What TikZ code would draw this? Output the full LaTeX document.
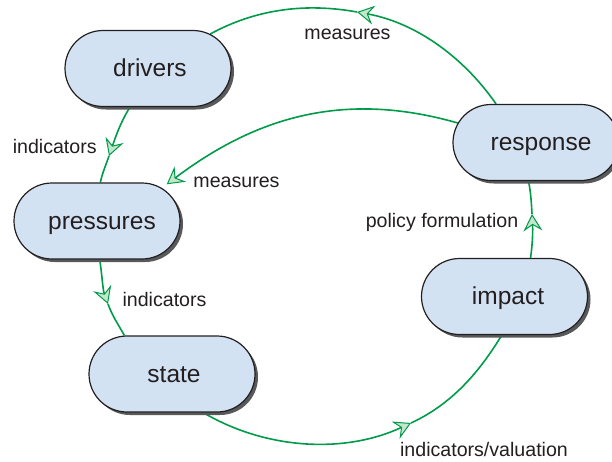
\documentclass[tikz,border=0pt]{standalone}
\usepackage{fontspec}
\setmainfont{Liberation Sans}
\usetikzlibrary{shapes.misc,shadows,arrows.meta}
\pgfdeclarelayer{background}
\pgfsetlayers{background,main}
\definecolor{nodefill}{RGB}{211,226,243}
\definecolor{nodeline}{RGB}{35,31,32}
\definecolor{shadowgray}{RGB}{88,89,91}
\definecolor{conngreen}{RGB}{0,155,72}
\definecolor{tipfill}{RGB}{196,230,202}
\definecolor{txt}{RGB}{35,31,32}
\tikzset{
  stage/.style={rounded rectangle, draw=nodeline, line width=1.2pt, fill=nodefill,
    minimum width=166pt, minimum height=76pt, inner sep=0pt, text=txt,
    text height=17.5pt, text depth=1pt,
    font=\fontsize{24.5}{29}\selectfont,
    drop shadow={shadow xshift=3pt, shadow yshift=-3pt, fill=shadowgray, opacity=1}},
  lbl/.style={text=txt, font=\fontsize{19.6}{23}\selectfont, inner sep=0pt, anchor=base},
  conn/.style={draw=conngreen, line width=1.6pt},
  headarrow/.style={-{Stealth[length=17pt,width=19pt,inset=6pt,line width=1pt,fill=tipfill]}}
}
\begin{document}
\begin{tikzpicture}[x=1pt,y=1pt]
\useasboundingbox (0,0) rectangle (612,-461);
% stages
\node[stage] (drivers) at (148,-68.5) {\hspace*{4pt}drivers};
\node[stage] (response) at (536,-142.5) {\hspace*{10pt}response};
\node[stage] (pressures) at (97,-221) {\hspace*{10pt}pressures};
\node[stage] (impact) at (504.5,-296.5) {\hspace*{7pt}impact};
\node[stage] (state) at (172,-374) {\hspace*{4pt}state};
% arrow tip points
\coordinate (tA) at (357,-12);
\coordinate (tB) at (109,-156);
\coordinate (tC) at (108,-304);
\coordinate (tD) at (411,-423);
\coordinate (tE) at (532,-214);
\begin{pgfonlayer}{background}
\draw[conn, headarrow] (response.136.8) to[out=124.8,in=-10.3,looseness=0.9] (tA);
\draw[conn] (tA) to[out=169.7,in=28.6,looseness=0.9] (drivers.29);
\draw[conn, headarrow] (drivers.245) to[out=238,in=71,looseness=0.9] (tB);
\draw[conn] (tB) to[out=251,in=78.3,looseness=0.9] (pressures.85.6);
\draw[conn, headarrow] (pressures.274) to[out=279,in=109.9,looseness=0.9] (tC);
\draw[conn] (tC) to[out=289.9,in=119.5,looseness=0.9] (state.141);
\draw[conn, headarrow] (state.-51.7) to[out=329.5,in=204.9,looseness=0.9] (tD);
\draw[conn] (tD) to[out=24.9,in=238.7,looseness=0.9] (impact.266.6);
\draw[conn, headarrow] (impact.56.5) to[out=81.7,in=273.2,looseness=0.9] (tE);
\draw[conn] (tE) to[out=93.2,in=281.6,looseness=0.9] (response.259);
\draw[conn, headarrow, shorten >=6pt] (response.166.8) to[out=164,in=37,looseness=1.0] (pressures.27);
\end{pgfonlayer}
% labels
\node[lbl] (lm1) at (347.5,-39.5) {measures};
\node[lbl] (li1) at (54.7,-153.3) {indicators};
\node[lbl] (lm2) at (236.5,-187.7) {measures};
\node[lbl] (lpf) at (442,-227.8) {policy formulation};
\node[lbl] (li2) at (164.5,-306) {indicators};
\node[lbl] (liv) at (484,-456.7) {indicators/valuation};
\end{tikzpicture}
\end{document}
